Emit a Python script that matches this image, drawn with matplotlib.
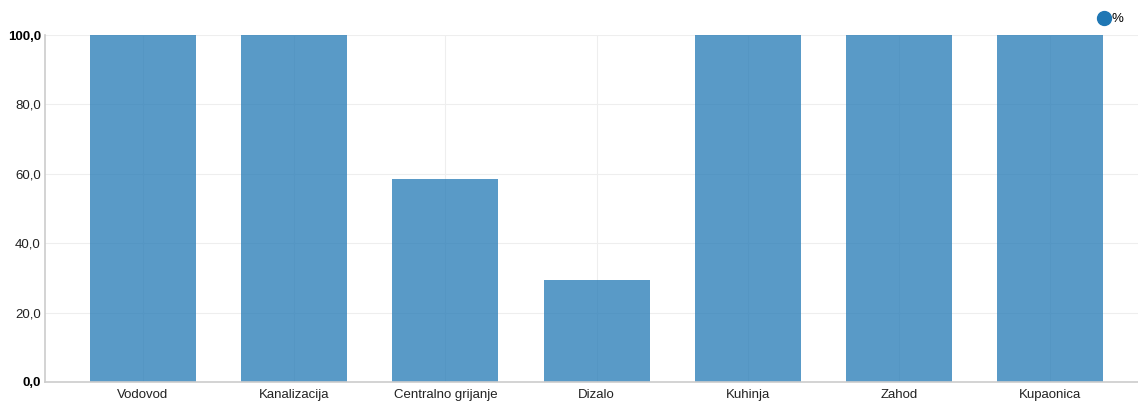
import matplotlib
matplotlib.use("Agg")
import matplotlib.pyplot as plt
from matplotlib.lines import Line2D

categories = ["Vodovod", "Kanalizacija", "Centralno grijanje", "Dizalo", "Kuhinja", "Zahod", "Kupaonica"]
values = [100.0, 100.0, 58.5, 29.4, 100.0, 100.0, 100.0]
yticks = [0, 20, 40, 60, 80, 100]
ytick_labels = ["0,0", "20,0", "40,0", "60,0", "80,0", "100,0"]
series_name = "%"

plt.rcParams['font.family'] = ['Liberation Sans', 'DejaVu Sans']

W, H = 1138, 401
fig = plt.figure(figsize=(W/100, H/100), dpi=100)
left, right, top, bottom = 45, 1138, 35, 382
ax = fig.add_axes([left/W, (H-bottom)/H, (right-left)/W, (bottom-top)/H])

x = list(range(len(categories)))
ax.bar(x, values, width=0.70, color="#1f77b4", alpha=0.74, zorder=2)

ax.set_xlim(-0.648, 6.58)
ax.set_ylim(0, 100)
ax.set_xticks(x)
ax.set_xticklabels(categories, fontsize=9.5, color="#222222")
ax.set_yticks(yticks)
ax.set_yticklabels(ytick_labels, fontsize=9.5, color="#222222")
for i, t in enumerate(ax.get_yticklabels()):
    if i in (0, len(yticks)-1):
        t.set_fontweight("bold")
        t.set_color("#000000")
ax.tick_params(axis="y", length=0, pad=3)
ax.tick_params(axis="x", length=0, pad=5)
ax.grid(True, color="#eeeeee", linewidth=0.8, zorder=0)
ax.set_axisbelow(True)
for s in ["top", "right"]:
    ax.spines[s].set_visible(False)
for s in ["left", "bottom"]:
    ax.spines[s].set_color("#cccccc")
    ax.spines[s].set_linewidth(1.2)

handle = Line2D([], [], marker="o", linestyle="none", markersize=10, color="#1f77b4")
fig.legend([handle], [series_name], loc="upper right",
           bbox_to_anchor=(1.0 - 5/W, 1.0 - 4/H),
           frameon=False, fontsize=9.5, handletextpad=-0.4, borderaxespad=0.3)

fig.savefig("out.png", dpi=100)
